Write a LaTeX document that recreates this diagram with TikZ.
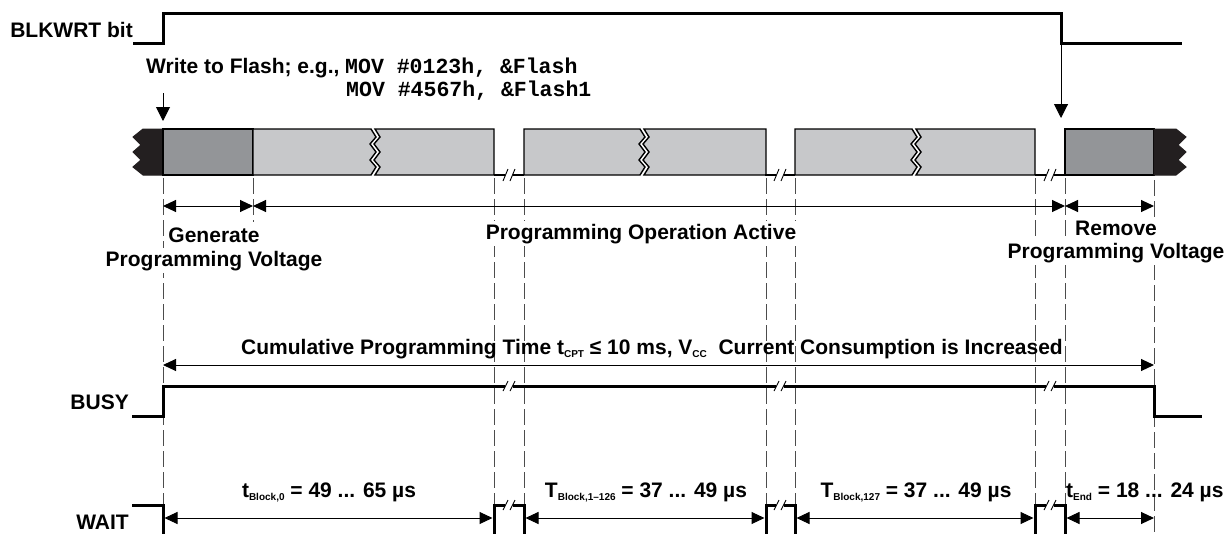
\documentclass[tikz,border=0pt]{standalone}
\usepackage{fontspec}
\setmainfont{Liberation Sans}
\setmonofont{Liberation Mono}
\usetikzlibrary{arrows.meta}
\definecolor{darkbox}{HTML}{939598}
\definecolor{lightbox}{HTML}{C7C8CA}
\definecolor{capblack}{HTML}{231F20}
\newcommand\lblfont{\bfseries\fontsize{21}{24}\selectfont}
\newcommand\codefont{\ttfamily\bfseries\fontsize{21.5}{26}\selectfont}
\newcommand\lowtxt[1]{\raisebox{-3pt}{\fontsize{10}{10}\selectfont #1}}
\newcommand\zigdown[1]{-- (#1,129) -- (#1+5,137) -- (#1-1,144) -- (#1+5,152) -- (#1-1,160) -- (#1+5,167) -- (#1,175)}
\newcommand\zigup[1]{-- (#1,175) -- (#1+5,167) -- (#1-1,160) -- (#1+5,152) -- (#1-1,144) -- (#1+5,137) -- (#1,129)}
\newcommand\brkmark[2]{%
  \fill[white] (#1-4,#2-3) rectangle (#1+4,#2+3);
  \draw[line width=0.9pt] (#1-6,#2+5) -- (#1-1,#2-5) (#1+1,#2+5) -- (#1+6,#2-5);}
\newcommand\basebrk[1]{%
  \draw[line width=1.2pt] (#1-15,175) -- (#1-4,175) (#1+4,175) -- (#1+15,175);
  \draw[line width=0.9pt] (#1-6,181) -- (#1-1,169) (#1+1,181) -- (#1+6,169);}
\begin{document}
\begin{tikzpicture}[x=1pt,y=-1pt,
  sig/.style={line width=3pt, line join=miter},
  guide/.style={line width=1pt, draw=black!70, dash pattern=on 16pt off 5pt},
  dimarrow/.style={line width=1pt, {Triangle[length=13pt,width=12pt]}-{Triangle[length=13pt,width=12pt]}},
  downarrow/.style={line width=1pt, -{Triangle[length=14pt,width=14pt]}},
  lbl/.style={font=\lblfont, inner sep=0pt},
  mlbl/.style={lbl, fill=white, inner xsep=2pt, inner ysep=3pt},
  codelbl/.style={font=\codefont, inner sep=0pt},
  boxline/.style={draw=black, line width=1.4pt, line join=miter}
]
\useasboundingbox (0,0) rectangle (1226,533);

% ---------- programming bar ----------
\filldraw[fill=capblack, draw=capblack, line width=1pt]
  (163,129) -- (143,129) -- (133,137) -- (141,145) -- (133,152) -- (141,160) -- (133,167) -- (143,175) -- (163,175) -- cycle;
\filldraw[fill=darkbox, boxline] (163,129) rectangle (253,175);
\filldraw[fill=lightbox, boxline] (253,129) \zigdown{371} -- (253,175) -- cycle;
\filldraw[fill=lightbox, boxline] (494,129) -- (494,175) \zigup{375} -- cycle;
\filldraw[fill=lightbox, boxline] (524,129) \zigdown{640} -- (524,175) -- cycle;
\filldraw[fill=lightbox, boxline] (766,129) -- (766,175) \zigup{644} -- cycle;
\filldraw[fill=lightbox, boxline] (795,129) \zigdown{912} -- (795,175) -- cycle;
\filldraw[fill=lightbox, boxline] (1035,129) -- (1035,175) \zigup{916} -- cycle;
\filldraw[fill=darkbox, boxline] (1065,129) rectangle (1154,175);
\filldraw[fill=capblack, draw=capblack, line width=1pt]
  (1154,129) -- (1176,129) -- (1186,137) -- (1178,145) -- (1186,152) -- (1178,160) -- (1186,167) -- (1176,175) -- (1154,175) -- cycle;
\basebrk{509}
\basebrk{780}
\basebrk{1050}

% ---------- guide lines ----------
\draw[guide] (163,178) -- (163,505);
\draw[guide] (253,178) -- (253,222);
\foreach \gx in {494,524,766,795,1035,1065} \draw[guide] (\gx,178) -- (\gx,505);
\draw[guide] (1154,180) -- (1154,533);

% ---------- labels ----------
\node[lbl, anchor=base east] (blk) at (133,37) {BLKWRT bit};
\node[lbl, anchor=base west] (wtf) at (146,73) {Write to Flash; e.g.,};
\node[codelbl, anchor=base west] (mov1) at (345,73) {MOV \#0123h, \&Flash};
\node[codelbl, anchor=base west] (mov2) at (346,96) {MOV \#4567h, \&Flash1};
\node[mlbl, anchor=base] (gen1) at (214,242) {Generate};
\node[mlbl, anchor=base] (gen2) at (214,266) {Programming Voltage};
\node[mlbl, anchor=base] (poa) at (641,239) {Programming Operation Active};
\node[mlbl, anchor=base] (rem1) at (1116,235) {Remove};
\node[mlbl, anchor=base] (rem2) at (1116,258) {Programming Voltage};
\node[lbl, anchor=base] (cum) at (652,354) {Cumulative Programming Time t\lowtxt{CPT} ≤ 10 ms, V\lowtxt{CC}\ \ Current Consumption is Increased};
\node[lbl, anchor=base east] (busy) at (129,409) {BUSY};
\node[lbl, anchor=base east] (wait) at (129,529) {WAIT};
\node[lbl, anchor=base] (tb0) at (329,497) {t\lowtxt{Block,0} = 49 ... 65 µs};
\node[lbl, anchor=base] (tb1) at (646,497) {T\lowtxt{Block,1–126} = 37 ... 49 µs};
\node[lbl, anchor=base] (tb2) at (916,497) {T\lowtxt{Block,127} = 37 ... 49 µs};
\node[lbl, anchor=base west] (tend) at (1066,497) {t\lowtxt{End} = 18 ... 24 µs};

% ---------- arrows ----------
\coordinate (a1top) at (163,93);
\coordinate (a1tip) at (163,121);
\coordinate (a2top) at (1061,43);
\coordinate (a2tip) at (1061,118);
\draw[downarrow] (a1top) -- (a1tip);
\draw[downarrow] (a2top) -- (a2tip);

\coordinate (r1a) at (163,206);
\coordinate (r1b) at (253,206);
\coordinate (r1c) at (1065,206);
\coordinate (r1d) at (1154,206);
\draw[dimarrow] (r1a) -- (r1b);
\draw[dimarrow] (r1b) -- (r1c);
\draw[dimarrow] (r1c) -- (r1d);

\coordinate (cuma) at (163,365);
\coordinate (cumb) at (1154,365);
\draw[dimarrow] (cuma) -- (cumb);

\coordinate (w0a) at (164.5,518);
\coordinate (w0b) at (492.5,518);
\coordinate (w1a) at (525.5,518);
\coordinate (w1b) at (764.5,518);
\coordinate (w2a) at (796.5,518);
\coordinate (w2b) at (1033.5,518);
\coordinate (w3a) at (1066.5,518);
\coordinate (w3b) at (1154,518);
\draw[dimarrow] (w0a) -- (w0b);
\draw[dimarrow] (w1a) -- (w1b);
\draw[dimarrow] (w2a) -- (w2b);
\draw[dimarrow] (w3a) -- (w3b);

% ---------- signals ----------
\draw[sig] (133,43) -- (163,43) -- (163,13) -- (1061,13) -- (1061,43) -- (1182,43);
\draw[sig] (132,416) -- (163,416) -- (163,386) -- (1154,386) -- (1154,416) -- (1202,416);
\brkmark{509}{386}
\brkmark{780}{386}
\brkmark{1050}{386}
\draw[sig] (132,505) -- (163,505) -- (163,535);
\draw[sig] (494,535) -- (494,505) -- (524,505) -- (524,535);
\draw[sig] (766,535) -- (766,505) -- (795,505) -- (795,535);
\draw[sig] (1035,535) -- (1035,505) -- (1065,505) -- (1065,535);
\brkmark{509}{505}
\brkmark{780}{505}
\brkmark{1050}{505}
\end{tikzpicture}
\end{document}
